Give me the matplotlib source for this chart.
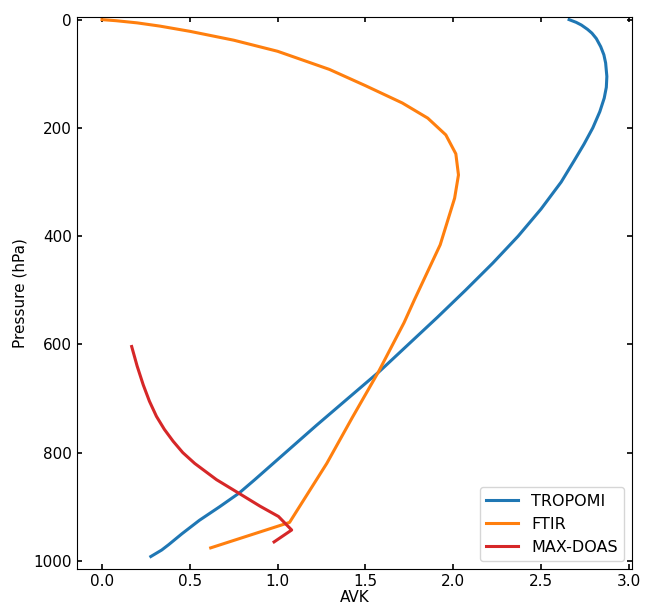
import matplotlib
matplotlib.use("Agg")
import matplotlib.pyplot as plt

# averaging kernels
tropomi_p = [0, 5, 10, 18, 25, 35, 50, 65, 80, 105, 125, 145, 170, 200, 230,
             260, 300, 350, 400, 450, 500, 550, 600, 650, 700, 750, 800, 850,
             875, 900, 925, 950, 970, 980, 992]
tropomi_avk = [2.66, 2.70, 2.73, 2.765, 2.79, 2.815, 2.84, 2.858, 2.868, 2.875,
               2.872, 2.86, 2.835, 2.795, 2.745, 2.69, 2.615, 2.50, 2.37,
               2.225, 2.07, 1.91, 1.745, 1.58, 1.40, 1.22, 1.045, 0.87, 0.78,
               0.67, 0.555, 0.455, 0.38, 0.34, 0.278]

ftir_p = [0, 2, 6, 12, 21.6, 38, 58.5, 92, 122, 154, 182, 213, 248, 287, 330,
          416, 517, 560, 651, 736, 820, 929, 976]
ftir_avk = [0.0, 0.08, 0.2, 0.33, 0.5, 0.75, 1.0, 1.295, 1.50, 1.71, 1.855,
            1.958, 2.015, 2.03, 2.008, 1.926, 1.78, 1.72, 1.574, 1.424, 1.28,
            1.068, 0.619]

maxdoas_p = [604, 640, 675, 705, 733, 757, 779, 800, 820, 850, 876, 899, 918, 943, 965]
maxdoas_avk = [0.169, 0.20, 0.235, 0.27, 0.31, 0.355, 0.405, 0.46, 0.528,
               0.652, 0.784, 0.90, 1.005, 1.08, 0.98]

plt.rcParams["font.size"] = 11

fig = plt.figure(figsize=(6.45, 6.04), dpi=100)
ax = fig.add_axes([0.119, 0.058, 0.861, 0.914])

ax.plot(tropomi_avk, tropomi_p, color="tab:blue", lw=2.2, label="TROPOMI")
ax.plot(ftir_avk, ftir_p, color="tab:orange", lw=2.2, label="FTIR")
ax.plot(maxdoas_avk, maxdoas_p, color="tab:red", lw=2.2, label="MAX-DOAS")

ax.set_ylim(1015, -5)
ax.set_xlabel("AVK", labelpad=1)
ax.set_ylabel("Pressure (hPa)")
ax.tick_params(direction="in", top=True, right=True, width=1.2)
ax.legend(loc="lower right", fontsize=11.5)

fig.savefig("out.png", dpi=100)
